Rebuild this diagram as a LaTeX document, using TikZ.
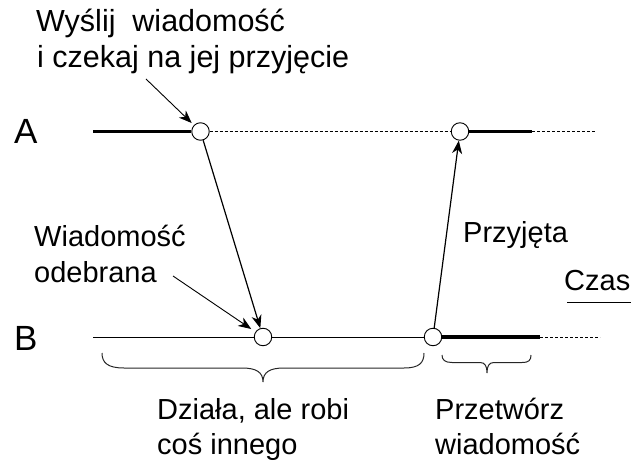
\documentclass[tikz,border=0pt]{standalone}
\usepackage{fontspec}
\setmainfont{Liberation Sans}
\usetikzlibrary{arrows.meta}

\begin{document}
\begin{tikzpicture}[x=1pt,y=-1pt,
  txt/.style={inner sep=0pt,anchor=base west,font=\fontsize{29}{35}\selectfont},
  bigtxt/.style={txt,font=\fontsize{30.5}{36}\selectfont},
  proc/.style={inner sep=0pt,anchor=base west,font=\fontsize{35}{40}\selectfont},
  event/.style={circle,draw,fill=white,line width=0.9pt,minimum size=17.5pt,inner sep=0pt},
  busy/.style={line width=3.6pt},
  idle/.style={line width=1pt},
  blocked/.style={line width=0.9pt,dash pattern=on 3pt off 2pt},
  msg/.style={line width=1.2pt,-{Stealth[length=13pt,width=10pt,inset=4pt]}},
  note/.style={line width=0.9pt,-{Stealth[length=13pt,width=10pt,inset=4pt]}},
  bracepath/.style={line width=1pt,draw=black!85},
]
\useasboundingbox (0,0) rectangle (631,462);

% process labels
\node[proc] (lA) at (14,144) {A};
\node[proc] (lB) at (14,350) {B};

% events on the time lines
\node[event] (a1) at (200.5,131.5) {};
\node[event] (a2) at (460,131.5) {};
\node[event] (b1) at (263,337) {};
\node[event] (b2) at (433,337) {};

\coordinate (aStart) at (93,131.5);
\coordinate (aBusyEnd) at (532,131.5);
\coordinate (aEnd) at (595,131.5);
\coordinate (bStart) at (93,337);
\coordinate (bBusyEnd) at (540,337);
\coordinate (bEnd) at (600,337);

% process A
\draw[busy] (aStart) -- (a1.west);
\draw[blocked] (a1.east) -- (a2.west);
\draw[busy] (a2.east) -- (aBusyEnd);
\draw[blocked] (aBusyEnd) -- (aEnd);

% process B
\draw[idle] (bStart) -- (b1.west);
\draw[idle] (b1.east) -- (b2.west);
\draw[busy] (b2.east) -- (bBusyEnd);
\draw[blocked] (bBusyEnd) -- (bEnd);

% messages
\draw[msg] (a1) -- (b1);
\draw[msg] (b2) -- (a2);

% annotations
\node[bigtxt] (t1) at (36,32) {Wyślij\ \ wiadomość};
\node[bigtxt] (t2) at (37,68) {i czekaj na jej przyjęcie};
\coordinate (t2arrow) at (146,79);
\draw[note,shorten >=3pt] (t2arrow) -- (a1);

\node[txt] (r1) at (34,247) {Wiadomość};
\node[txt] (r2) at (34,282) {odebrana};
\coordinate (r2arrow) at (173,276);
\draw[note,shorten >=5pt] (r2arrow) -- (b1);

\node[txt] (ack) at (463,242) {Przyjęta};

% time axis
\node[txt] (czas) at (564,290) {Czas};
\coordinate (czasL) at (567,302);
\coordinate (czasR) at (631,302);
\draw[line width=1pt] (czasL) -- (czasR);

% braces under process B
\draw[bracepath] (102,353) .. controls (102,363) and (108,368) .. (124,368)
  -- (242,368) .. controls (256,368) and (263,372) .. (263,382)
  .. controls (263,372) and (270,368) .. (284,368)
  -- (404,368) .. controls (419,368) and (424,363) .. (424,353);
\draw[bracepath] (442,355) .. controls (442,360) and (445,362.5) .. (452,362.5)
  -- (480,362.5) .. controls (485,362.5) and (487,366) .. (487,373)
  .. controls (487,366) and (489,362.5) .. (494,362.5)
  -- (522,362.5) .. controls (529,362.5) and (531,360) .. (531,355);

\node[txt] (d1) at (157,419) {Działa, ale robi};
\node[txt] (d2) at (157,454) {coś innego};
\node[txt] (p1) at (435,419) {Przetwórz};
\node[txt] (p2) at (435,454) {wiadomość};
\end{tikzpicture}
\end{document}
